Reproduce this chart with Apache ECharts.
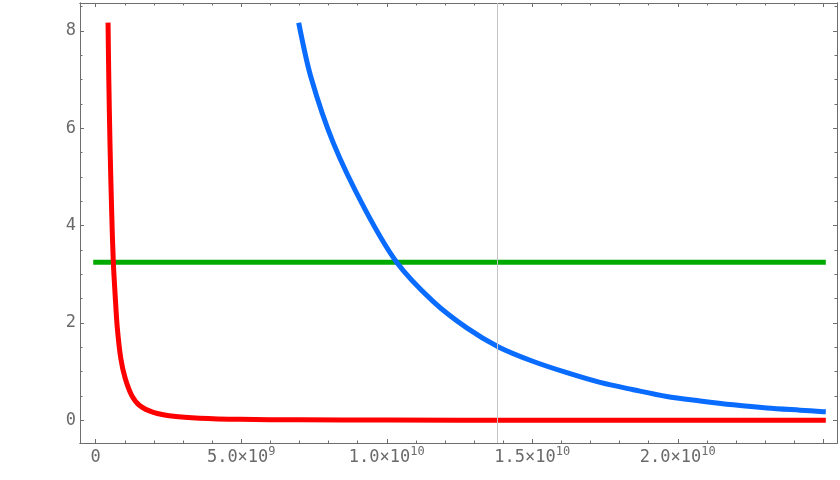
<!DOCTYPE html>
<html><head><meta charset="utf-8">
<script src="https://cdn.jsdelivr.net/npm/echarts@6/dist/echarts.min.js"></script>
<style>html,body{margin:0;padding:0;background:#fff}#c{width:840px;height:480px}</style>
</head><body><div id="c"></div>
<script>
// ---- data ----
const redX  = [0.425e9, 0.45e9, 0.49e9, 0.55e9, 0.605e9, 0.68e9, 0.742e9, 0.86e9, 1.01e9, 1.24e9, 1.52e9, 1.98e9, 2.67e9, 3.58e9, 4.96e9, 7.0e9, 10.0e9, 15.0e9, 20.0e9, 25.0e9];
const redY  = [8.12, 7.0, 5.69, 4.25, 3.25, 2.45, 1.90, 1.28, 0.87, 0.51, 0.30, 0.165, 0.085, 0.045, 0.022, 0.012, 0.006, 0.003, 0.002, 0.001];
const blueX = [6.99e9, 7.39e9, 8.17e9, 9.25e9, 10.34e9, 11.60e9, 12.75e9, 13.84e9, 15.04e9, 16.19e9, 17.33e9, 18.47e9, 19.62e9, 20.77e9, 21.91e9, 23.06e9, 24.20e9, 25.0e9];
const blueY = [8.12, 7.06, 5.69, 4.34, 3.25, 2.44, 1.90, 1.51, 1.21, 0.98, 0.78, 0.63, 0.49, 0.40, 0.32, 0.255, 0.21, 0.18];
const greenX = [0, 25.0e9];
const greenY = [3.25, 3.25];
const markerX = 13.8e9;

const xTickValues   = [0, 5e9, 1e10, 1.5e10, 2e10];
const xTickMantissa = ['0', '5.0', '1.0', '1.5', '2.0'];
const xTickExponent = ['', '9', '10', '10', '10'];
const xMajorTicks   = [0, 5e9, 1e10, 1.5e10, 2e10, 2.5e10];
const yTickValues   = [0, 2, 4, 6, 8];
const yTickLabels   = ['0', '2', '4', '6', '8'];

// ---- ranges ----
const xMin = -0.54e9, xMax = 2.547e10;
const yMin = -0.464, yMax = 8.574;

const xMinorTicks = [];
for (let k = 1; k < 25; k++) if (k % 5 !== 0) xMinorTicks.push(k * 1e9);
const yMinorTicks = [];
for (let k = 1; k <= 17; k++) if (k % 4 !== 0) yMinorTicks.push(k * 0.5);

const frameColor = '#6e6e6e';
const labelColor = '#6a6a6a';
const font = '"DejaVu Sans Mono", monospace';

function zip(a, b) { return a.map((v, i) => [v, b[i]]); }

function xAxisDef(pos, ticks, len, labels) {
  return {
    type: 'value', position: pos, min: xMin, max: xMax,
    axisLine: { show: true, onZero: false, lineStyle: { color: frameColor, width: 1 } },
    splitLine: { show: false },
    axisTick: { show: true, inside: true, length: len, customValues: ticks, lineStyle: { color: frameColor, width: 1 } },
    axisLabel: labels ? {
      show: true, customValues: xTickValues, margin: 3,
      formatter: function (v) {
        let i = xTickValues.findIndex(t => Math.abs(t - v) < 1);
        if (i < 0) return '';
        if (xTickExponent[i] === '') return '{m|' + xTickMantissa[i] + '}';
        return '{m|' + xTickMantissa[i] + '×10}{e|' + xTickExponent[i] + '}';
      },
      rich: {
        m: { fontFamily: font, fontSize: 17, color: labelColor, lineHeight: 20, verticalAlign: 'bottom' },
        e: { fontFamily: font, fontSize: 12, color: labelColor, lineHeight: 20, verticalAlign: 'top' }
      }
    } : { show: false }
  };
}
function yAxisDef(pos, ticks, len, labels) {
  return {
    type: 'value', position: pos, min: yMin, max: yMax,
    axisLine: { show: true, onZero: false, lineStyle: { color: frameColor, width: 1 } },
    splitLine: { show: false },
    axisTick: { show: true, inside: true, length: len, customValues: ticks, lineStyle: { color: frameColor, width: 1 } },
    axisLabel: labels ? {
      show: true, customValues: yTickValues, margin: 4,
      fontFamily: font, fontSize: 17, color: labelColor,
      formatter: function (v) {
        let i = yTickValues.findIndex(t => Math.abs(t - v) < 1e-6);
        return i < 0 ? '' : yTickLabels[i];
      }
    } : { show: false }
  };
}

const chart = echarts.init(document.getElementById('c'), null, { renderer: 'canvas' });
chart.setOption({
  animation: false,
  backgroundColor: '#ffffff',
  grid: { left: 80, right: 3, top: 3, bottom: 37, containLabel: false },
  xAxis: [
    xAxisDef('bottom', xMajorTicks, 4, true),
    xAxisDef('bottom', xMinorTicks, 2.5, false),
    xAxisDef('top', xMajorTicks, 4, false),
    xAxisDef('top', xMinorTicks, 2.5, false)
  ],
  yAxis: [
    yAxisDef('left', yTickValues, 4, true),
    yAxisDef('left', yMinorTicks, 2.5, false),
    yAxisDef('right', yTickValues, 4, false),
    yAxisDef('right', yMinorTicks, 2.5, false)
  ],
  series: [
    {
      type: 'line', data: zip(greenX, greenY), showSymbol: false, silent: true,
      lineStyle: { color: '#00aa00', width: 5, cap: 'square' },
      markLine: {
        silent: true, symbol: ['none', 'none'], label: { show: false },
        lineStyle: { color: '#c4c4c4', width: 1, type: 'solid' },
        data: [{ xAxis: markerX }]
      },
      z: 2
    },
    {
      type: 'line', data: zip(blueX, blueY), showSymbol: false, silent: true,
      smooth: 0.3,
      lineStyle: { color: '#0a6cff', width: 5, cap: 'square', join: 'round' }, z: 3
    },
    {
      type: 'line', data: zip(redX, redY), showSymbol: false, silent: true,
      smooth: 0.3,
      lineStyle: { color: '#ff0000', width: 5, cap: 'square', join: 'round' }, z: 4
    }
  ]
});
</script></body></html>
